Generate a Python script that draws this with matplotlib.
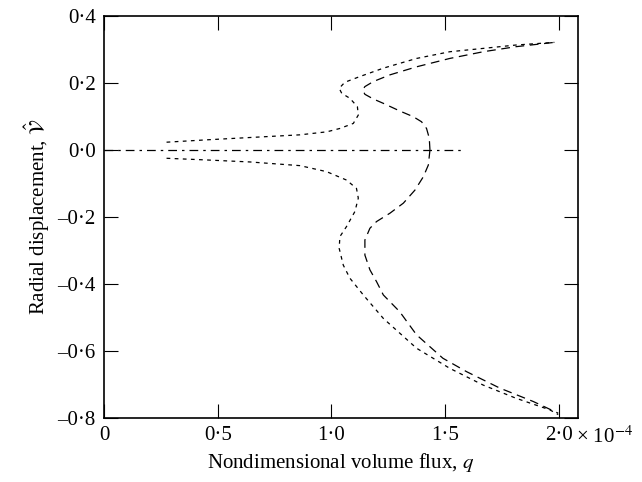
import matplotlib
matplotlib.use("Agg")
import matplotlib.pyplot as plt

plt.rcParams["font.family"] = ["Liberation Serif", "DejaVu Serif"]
plt.rcParams["mathtext.fontset"] = "stix"

# volume flux q (x 1e-4) and radial displacement for each branch
# upper branch, short dashes
q_up_short = [0.275, 0.45, 0.642, 0.862, 0.98, 1.037, 1.096, 1.118, 1.114, 1.081, 1.045,
              1.034, 1.059, 1.125, 1.228, 1.374, 1.52, 1.667, 1.81, 1.98]
v_up_short = [0.023, 0.030, 0.037, 0.045, 0.054, 0.064, 0.079, 0.104, 0.129, 0.154, 0.169,
              0.184, 0.202, 0.219, 0.244, 0.273, 0.293, 0.303, 0.313, 0.321]
# lower branch, short dashes
q_lo_short = [0.275, 0.45, 0.642, 0.862, 0.979, 1.066, 1.11, 1.118, 1.103, 1.066, 1.037,
              1.034, 1.052, 1.081, 1.14, 1.228, 1.374, 1.52, 1.667, 1.81, 1.96, 1.997]
v_lo_short = [-0.025, -0.030, -0.036, -0.047, -0.065, -0.090, -0.115, -0.144, -0.184,
              -0.229, -0.259, -0.294, -0.344, -0.383, -0.433, -0.503, -0.592, -0.652,
              -0.702, -0.741, -0.776, -0.790]
# upper branch, long dashes
q_up_long = [1.433, 1.430, 1.418, 1.396, 1.360, 1.301, 1.228, 1.184, 1.147, 1.137, 1.147,
             1.184, 1.257, 1.374, 1.52, 1.667, 1.81, 1.98]
v_up_long = [0.0, 0.035, 0.064, 0.084, 0.099, 0.116, 0.139, 0.152, 0.166, 0.179, 0.189,
             0.204, 0.224, 0.248, 0.273, 0.293, 0.308, 0.321]
# lower branch, long dashes
q_lo_long = [1.433, 1.426, 1.404, 1.367, 1.316, 1.257, 1.198, 1.169, 1.147, 1.147, 1.169,
             1.198, 1.228, 1.30, 1.374, 1.49, 1.594, 1.74, 1.887, 1.997]
v_lo_long = [0.0, -0.045, -0.080, -0.120, -0.159, -0.189, -0.214, -0.234, -0.269, -0.314,
             -0.358, -0.393, -0.433, -0.483, -0.552, -0.622, -0.662, -0.711, -0.751, -0.786]
# trivial branch
q_zero = [0.0, 1.58]
v_zero = [0.0, 0.0]

xticks = [0, 0.5, 1.0, 1.5, 2.0]
xlabels = ["0", "0·5", "1·0", "1·5", "2·0"]
yticks = [-0.8, -0.6, -0.4, -0.2, 0.0, 0.2, 0.4]
ylabels = ["–0·8", "–0·6", "–0·4", "–0·2", "0·0", "0·2", "0·4"]

fig = plt.figure(figsize=(6.42, 4.82), dpi=100)
ax = fig.add_axes([0.162, 0.133, 0.738, 0.834])

short = (0, (3.0, 3.5))
long = (0, (7.0, 4.5))
lw = 0.9
ax.plot(q_up_short, v_up_short, color="black", lw=lw, linestyle=short)
ax.plot(q_lo_short, v_lo_short, color="black", lw=lw, linestyle=short)
ax.plot(q_up_long, v_up_long, color="black", lw=lw, linestyle=long)
ax.plot(q_lo_long, v_lo_long, color="black", lw=lw, linestyle=long)
ax.plot(q_zero, v_zero, color="black", lw=lw, linestyle=(0, (7.0, 4.0, 2.0, 4.0)))

ax.set_xlim(0, 2.083)
ax.set_ylim(-0.8, 0.4)
ax.set_xticks(xticks)
ax.set_xticklabels(xlabels)
ax.set_yticks(yticks)
ax.set_yticklabels(ylabels)
ax.tick_params(direction="in", length=10, width=0.8, top=True, right=True,
               labelsize=15, pad=6, colors="black")
for s in ax.spines.values():
    s.set_linewidth(1.2)

ax.annotate("× 10$^{-4}$", xy=(2.0, 0), xycoords=("data", "axes fraction"),
            xytext=(12.5, -6), textcoords="offset points", ha="left", va="top",
            fontsize=15)

ax.set_xlabel("Nondimensional volume flux, $q$", fontsize=15, labelpad=4)
ax.set_ylabel(r"Radial displacement, $\hat{\mathcal{V}}$", fontsize=15, labelpad=4)

fig.savefig("out.png", dpi=100)
